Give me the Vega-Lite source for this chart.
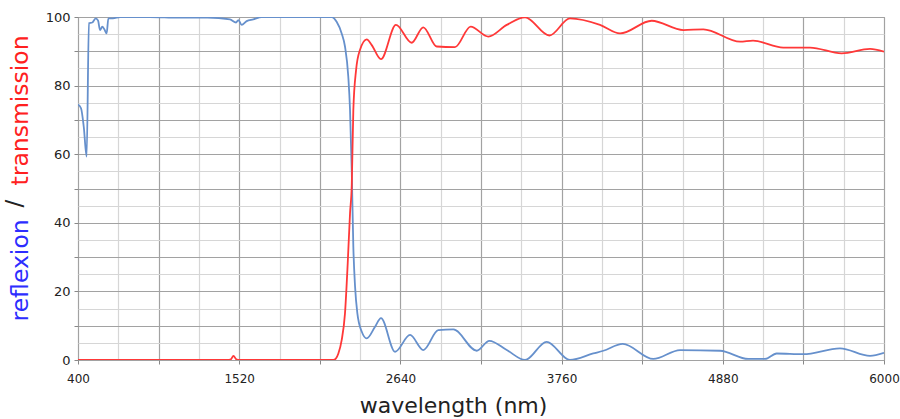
{
  "$schema": "https://vega.github.io/schema/vega-lite/v6.json",
  "autosize": "none",
  "width": 806,
  "height": 343,
  "padding": {"left": 78, "top": 17, "right": 16, "bottom": 59},
  "background": "white",
  "title": {
    "text": "/",
    "orient": "left",
    "anchor": "middle",
    "font": "DejaVu Sans",
    "fontSize": 23,
    "fontWeight": "normal",
    "color": "#222222",
    "offset": 0,
    "dx": -15,
    "dy": 19
  },
  "config": {
    "view": {"stroke": "#9a9a9a", "strokeWidth": 1},
    "axis": {
      "labelFont": "DejaVu Sans",
      "labelFontSize": 12,
      "labelColor": "#222222",
      "titleFont": "DejaVu Sans",
      "titleFontWeight": "normal",
      "domain": false
    }
  },
  "datasets": {
    "reflexion": [
      {"nm": 400, "pct": 74.5}, {"nm": 421, "pct": 73.4}, {"nm": 440, "pct": 68}, {"nm": 460, "pct": 59.3},
      {"nm": 476, "pct": 98.2}, {"nm": 499, "pct": 98.4}, {"nm": 523, "pct": 99.6}, {"nm": 539, "pct": 99},
      {"nm": 553, "pct": 96.2}, {"nm": 569, "pct": 97.2}, {"nm": 583, "pct": 96.4}, {"nm": 599, "pct": 95.2},
      {"nm": 611, "pct": 99.6}, {"nm": 643, "pct": 99.6}, {"nm": 692, "pct": 100}, {"nm": 900, "pct": 100},
      {"nm": 1100, "pct": 99.8}, {"nm": 1300, "pct": 99.8}, {"nm": 1456, "pct": 99.3}, {"nm": 1498, "pct": 98.4},
      {"nm": 1514, "pct": 99.1}, {"nm": 1537, "pct": 97.7}, {"nm": 1572, "pct": 98.8}, {"nm": 1618, "pct": 99.3},
      {"nm": 1676, "pct": 100}, {"nm": 2163, "pct": 100}, {"nm": 2197, "pct": 98.6}, {"nm": 2232, "pct": 95.2},
      {"nm": 2255, "pct": 91.4}, {"nm": 2278, "pct": 82.6}, {"nm": 2290, "pct": 72.9}, {"nm": 2302, "pct": 55},
      {"nm": 2313, "pct": 33}, {"nm": 2325, "pct": 21.4}, {"nm": 2341, "pct": 13.6}, {"nm": 2371, "pct": 8.3},
      {"nm": 2406, "pct": 6.3}, {"nm": 2464, "pct": 9.7}, {"nm": 2505, "pct": 12.2}, {"nm": 2603, "pct": 2.4},
      {"nm": 2707, "pct": 7.3}, {"nm": 2799, "pct": 2.9}, {"nm": 2903, "pct": 8.7}, {"nm": 3008, "pct": 8.9},
      {"nm": 3170, "pct": 2.7}, {"nm": 3258, "pct": 5.6}, {"nm": 3379, "pct": 2.9}, {"nm": 3506, "pct": 0},
      {"nm": 3656, "pct": 5.3}, {"nm": 3818, "pct": 0}, {"nm": 3980, "pct": 1.9}, {"nm": 4050, "pct": 2.7},
      {"nm": 4185, "pct": 4.7}, {"nm": 4397, "pct": 0.3}, {"nm": 4583, "pct": 2.9}, {"nm": 4861, "pct": 2.7},
      {"nm": 5057, "pct": 0.3}, {"nm": 5173, "pct": 0.3}, {"nm": 5254, "pct": 1.9}, {"nm": 5439, "pct": 1.7},
      {"nm": 5694, "pct": 3.4}, {"nm": 5903, "pct": 1.2}, {"nm": 6000, "pct": 2.1}
    ],
    "transmission": [
      {"nm": 400, "pct": 0}, {"nm": 1440, "pct": 0}, {"nm": 1462, "pct": 0.2}, {"nm": 1480, "pct": 1.2},
      {"nm": 1500, "pct": 0.2}, {"nm": 1520, "pct": 0}, {"nm": 2174, "pct": 0}, {"nm": 2193, "pct": 0.5},
      {"nm": 2209, "pct": 1.9}, {"nm": 2232, "pct": 5.8}, {"nm": 2255, "pct": 13.6}, {"nm": 2274, "pct": 28.2},
      {"nm": 2290, "pct": 42.8}, {"nm": 2302, "pct": 51}, {"nm": 2313, "pct": 72.9}, {"nm": 2332, "pct": 84.5},
      {"nm": 2359, "pct": 90.4}, {"nm": 2406, "pct": 93.5}, {"nm": 2441, "pct": 91.8}, {"nm": 2505, "pct": 87.7},
      {"nm": 2609, "pct": 97.7}, {"nm": 2718, "pct": 92.5}, {"nm": 2799, "pct": 97}, {"nm": 2892, "pct": 91.4},
      {"nm": 3019, "pct": 91.2}, {"nm": 3128, "pct": 97.2}, {"nm": 3251, "pct": 94.3}, {"nm": 3379, "pct": 97.7},
      {"nm": 3506, "pct": 99.9}, {"nm": 3675, "pct": 94.6}, {"nm": 3818, "pct": 99.6}, {"nm": 4027, "pct": 97.7},
      {"nm": 4166, "pct": 95.2}, {"nm": 4386, "pct": 98.9}, {"nm": 4606, "pct": 96.2}, {"nm": 4745, "pct": 96.4},
      {"nm": 5000, "pct": 92.8}, {"nm": 5090, "pct": 93.1}, {"nm": 5300, "pct": 91.1}, {"nm": 5486, "pct": 91.1},
      {"nm": 5706, "pct": 89.4}, {"nm": 5903, "pct": 90.7}, {"nm": 6000, "pct": 89.9}
    ]
  },
  "resolve": {"axis": {"y": "independent"}},
  "layer": [
    {
      "data": {"name": "reflexion"},
      "mark": {"type": "line", "color": "#6690cc", "strokeWidth": 1.8, "interpolate": "monotone", "clip": true},
      "encoding": {
        "x": {
          "field": "nm", "type": "quantitative",
          "scale": {"domain": [400, 6000], "nice": false, "zero": false},
          "axis": {
            "title": "wavelength (nm)",
            "titleFontSize": 22,
            "titleColor": "#222222",
            "titleX": 375,
            "titleAlign": "center",
            "titlePadding": 11,
            "values": [400, 680, 960, 1240, 1520, 1800, 2080, 2360, 2640, 2920, 3200, 3480, 3760, 4040, 4320, 4600, 4880, 5160, 5440, 5720, 6000],
            "format": "d",
            "labelExpr": "(datum.value - 400) % 1120 === 0 ? datum.label : ''",
            "labelPadding": 9,
            "labelFlush": false,
            "tickSize": 4,
            "tickColor": "#888888",
            "tickOpacity": {"condition": {"test": "(datum.value - 400) % 560 === 0", "value": 1}, "value": 0},
            "gridColor": {"condition": {"test": "(datum.value - 400) % 560 === 0", "value": "#a2a2a2"}, "value": "#d6d6d6"},
            "gridOpacity": 1,
            "gridWidth": 1.2
          }
        },
        "y": {
          "field": "pct", "type": "quantitative",
          "scale": {"domain": [0, 100], "nice": false},
          "axis": {
            "orient": "left",
            "title": "reflexion",
            "titleColor": "#2d2dff",
            "titleFontSize": 23.5,
            "titleAngle": -90,
            "titleAlign": "left",
            "titleBaseline": "middle",
            "titleX": -58,
            "titleY": 304,
            "values": [0, 5, 10, 15, 20, 25, 30, 35, 40, 45, 50, 55, 60, 65, 70, 75, 80, 85, 90, 95, 100],
            "labelExpr": "datum.value % 20 === 0 ? datum.label : ''",
            "labelFontSize": 13,
            "labelPadding": 4,
            "tickSize": 4,
            "tickColor": "#888888",
            "tickOpacity": {"condition": {"test": "datum.value % 10 === 0", "value": 1}, "value": 0},
            "gridColor": {"condition": {"test": "datum.value % 10 === 0", "value": "#a2a2a2"}, "value": "#d6d6d6"},
            "gridOpacity": 1,
            "gridWidth": 1.2
          }
        }
      }
    },
    {
      "data": {"name": "transmission"},
      "mark": {"type": "line", "color": "#ff3838", "strokeWidth": 1.8, "interpolate": "monotone", "clip": true},
      "encoding": {
        "x": {"field": "nm", "type": "quantitative"},
        "y": {
          "field": "pct", "type": "quantitative",
          "axis": {
            "orient": "left",
            "title": "transmission",
            "titleColor": "#ff2020",
            "titleFontSize": 23.5,
            "titleAngle": -90,
            "titleAlign": "left",
            "titleBaseline": "middle",
            "titleX": -58,
            "titleY": 168,
            "grid": false,
            "labels": false,
            "ticks": false,
            "domain": false
          }
        }
      }
    }
  ]
}
